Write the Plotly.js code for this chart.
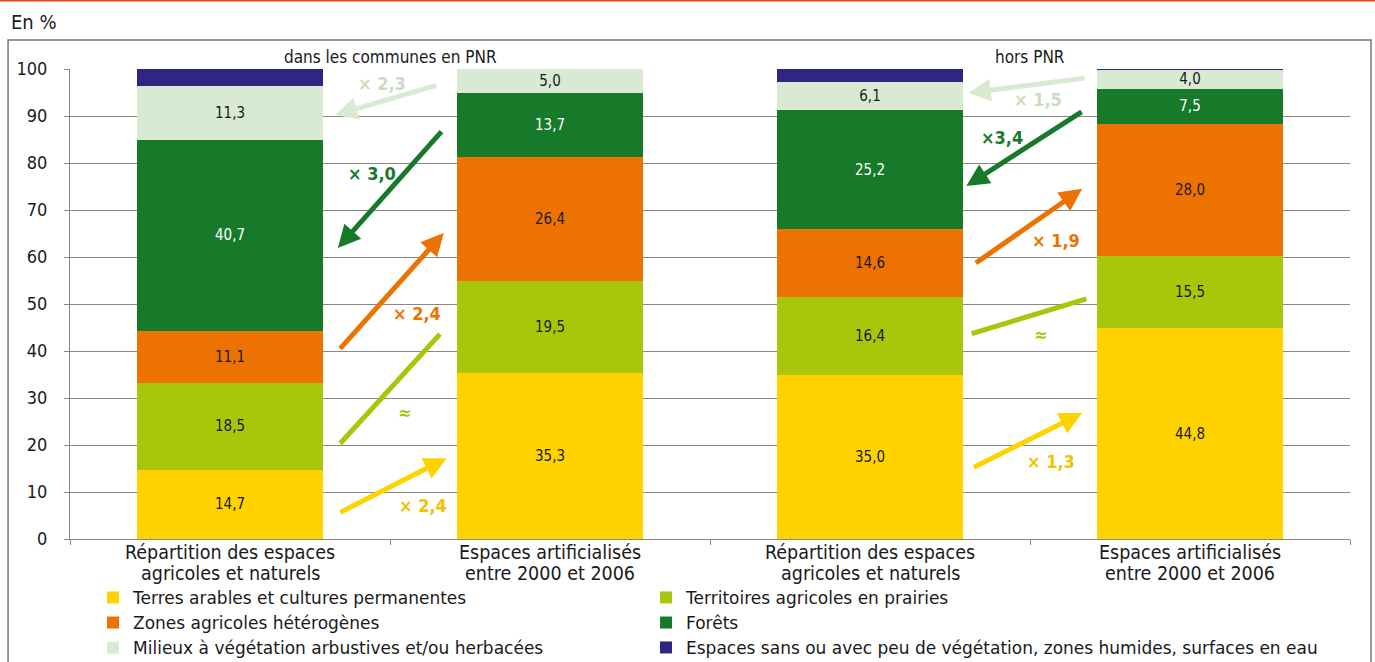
<!DOCTYPE html>
<html>
<head>
<meta charset="utf-8">
<script src="https://cdn.plot.ly/plotly-3.0.1.min.js"></script>
<style>
  body { margin: 0; background: #fff; }
  #chart { width: 1375px; height: 662px; }
</style>
</head>
<body>
<div id="chart"></div>
<script>
// bar positions 0..3 : PNR (2 bars) then hors PNR (2 bars)
var barPos = [0, 1, 2, 3];
var barLabels = [
  ["Répartition des espaces", "agricoles et naturels"],
  ["Espaces artificialisés", "entre 2000 et 2006"],
  ["Répartition des espaces", "agricoles et naturels"],
  ["Espaces artificialisés", "entre 2000 et 2006"],
];
var groupLabels = ["dans les communes en PNR", "hors PNR"];

var seriesNames = [
  "Terres arables et cultures permanentes",
  "Territoires agricoles en prairies",
  "Zones agricoles hétérogènes",
  "Forêts",
  "Milieux à végétation arbustives et/ou herbacées",
  "Espaces sans ou avec peu de végétation, zones humides, surfaces en eau",
];
var terres = [14.7, 35.3, 35.0, 44.8];
var prairies = [18.5, 19.5, 16.4, 15.5];
var heterogenes = [11.1, 26.4, 14.6, 28.0];
var forets = [40.7, 13.7, 25.2, 7.5];
var milieux = [11.3, 5.0, 6.1, 4.0];
var sansVeg = [3.7, 0.1, 2.7, 0.2];

// evolution factors, PNR then hors PNR (same order as the series)
var factors = ["× 2,4", "≈", "× 2,4", "× 3,0", "× 2,3",
               "× 1,3", "≈", "× 1,9", "×3,4", "× 1,5"];

var colors = ["#FFD200", "#A8C60A", "#EE7202", "#177A2B", "#D9EAD3", "#2F2683"];
var textColors = ["#1a1a1a", "#1a1a1a", "#1a1a1a", "#ffffff", "#1a1a1a", "#ffffff"];
var labelColors = ["#F2C200", "#A8C60A", "#EE7202", "#177A2B", "#C8DCC0"];

var FONT = "'DejaVu Sans Condensed', 'Liberation Sans Narrow', sans-serif";

function fr(v) {
  return v.toFixed(1).replace(".", ",");
}

var allSeries = [terres, prairies, heterogenes, forets, milieux, sansVeg];
var data = [];
for (var i = 0; i < allSeries.length; i++) {
  data.push({
    type: "bar",
    x: barPos,
    y: allSeries[i],
    name: seriesNames[i],
    // the last (long) entry sits in its own legend so it is not clipped
    legend: i < 5 ? "legend" : "legend2",
    marker: { color: colors[i] },
    text: i < 5 ? allSeries[i].map(fr) : null,
    textposition: i < 5 ? "inside" : "none",
    insidetextanchor: "middle",
    textangle: 0,
    textfont: { size: 15, color: textColors[i], family: FONT },
    hoverinfo: "none",
  });
}

// arrows: [tail x, tail y, head x, head y, arrowhead], in axis units
var arrows = [
  [0.34, 5.5, 0.677, 17.2, 2],
  [0.34, 20.0, 0.656, 43.6, 0],
  [0.34, 40.2, 0.668, 65.1, 2],
  [0.665, 87.0, 0.337, 61.9, 2],
  [0.649, 96.6, 0.328, 90.2, 2],
  [2.32, 15.1, 2.663, 26.8, 2],
  [2.313, 43.6, 2.676, 51.1, 0],
  [2.326, 58.5, 2.663, 74.5, 2],
  [2.666, 91.1, 2.301, 75.1, 2],
  [2.676, 98.1, 2.307, 94.9, 2],
];
var factorPos = [
  [0.603, 7.2], [0.546, 27.0], [0.584, 47.9], [0.443, 77.7], [0.475, 97.0],
  [2.566, 16.4], [2.535, 43.6], [2.582, 63.6], [2.413, 85.5], [2.526, 93.6],
];

var annotations = [];
for (var a = 0; a < arrows.length; a++) {
  var k = a % 5;
  annotations.push({
    x: arrows[a][2], y: arrows[a][3],
    ax: arrows[a][0], ay: arrows[a][1],
    xref: "x", yref: "y", axref: "x", ayref: "y",
    text: "",
    showarrow: true,
    arrowhead: arrows[a][4],
    arrowsize: 0.9,
    arrowwidth: 5,
    arrowcolor: colors[k],
    standoff: 0,
    startstandoff: 0,
  });
  annotations.push({
    x: factorPos[a][0], y: factorPos[a][1],
    xref: "x", yref: "y",
    text: "<b>" + factors[a] + "</b>",
    showarrow: false,
    font: { size: 18, color: labelColors[k], family: FONT },
  });
}
// category labels, one annotation per line to keep them tight
for (var b = 0; b < barPos.length; b++) {
  annotations.push({
    x: barPos[b], y: -0.0277, xref: "x", yref: "paper",
    text: barLabels[b][0], showarrow: false, yanchor: "middle",
    font: { size: 19.5, color: "#1a1a1a", family: FONT },
  });
  annotations.push({
    x: barPos[b], y: -0.0724, xref: "x", yref: "paper",
    text: barLabels[b][1], showarrow: false, yanchor: "middle",
    font: { size: 19.5, color: "#1a1a1a", family: FONT },
  });
}
annotations.push({
  x: 0.5, y: 1.0255, xref: "x", yref: "paper", yanchor: "middle",
  text: groupLabels[0], showarrow: false,
  font: { size: 17, color: "#1a1a1a", family: FONT },
});
annotations.push({
  x: 2.5, y: 1.0255, xref: "x", yref: "paper", yanchor: "middle",
  text: groupLabels[1], showarrow: false,
  font: { size: 17, color: "#1a1a1a", family: FONT },
});
annotations.push({
  x: -0.048, y: 1.1, xref: "paper", yref: "paper",
  xanchor: "left", yanchor: "middle",
  text: "En %", showarrow: false,
  font: { size: 20, color: "#1a1a1a", family: FONT },
});

var legendFont = { size: 17, family: "'DejaVu Sans', sans-serif" };

var layout = {
  width: 1375,
  height: 662,
  margin: { l: 70, r: 25, t: 69, b: 123, autoexpand: false },
  barmode: "stack",
  bargap: 0.416,
  uniformtext: { mode: "show", minsize: 15 },
  plot_bgcolor: "#ffffff",
  paper_bgcolor: "#ffffff",
  font: { family: FONT, color: "#1a1a1a", size: 18 },
  showlegend: true,
  legend: {
    orientation: "h",
    x: 0.018,
    xanchor: "left",
    y: -0.087,
    yanchor: "top",
    entrywidth: 508,
    entrywidthmode: "pixels",
    traceorder: "normal",
    font: legendFont,
  },
  legend2: {
    orientation: "h",
    x: 0.45,
    xanchor: "left",
    y: -0.1934,
    yanchor: "top",
    font: legendFont,
  },
  xaxis: {
    range: [-0.5, 3.5],
    tickvals: barPos,
    showticklabels: false,
    ticks: "",
    showgrid: false,
    zeroline: false,
    showline: true,
    linecolor: "#888888",
    linewidth: 1,
    automargin: false,
    minor: {
      tickvals: [-0.5, 0.5, 1.5, 2.5, 3.5],
      ticks: "outside",
      ticklen: 5,
      tickcolor: "#888888",
      showgrid: false,
    },
  },
  yaxis: {
    range: [0, 100],
    dtick: 10,
    ticks: "outside",
    ticklen: 5,
    tickcolor: "#888888",
    showgrid: true,
    gridcolor: "#888888",
    gridwidth: 1,
    zeroline: false,
    showline: true,
    linecolor: "#888888",
    automargin: false,
    ticklabelstandoff: 13,
    tickfont: { size: 18, family: FONT },
  },
  annotations: annotations,
  shapes: [
    {
      type: "rect", xref: "paper", yref: "paper",
      x0: -0.0484, x1: 1.0164, y0: -0.3, y1: 1.0617,
      line: { color: "#777777", width: 1.5 },
      layer: "below",
    },
    {
      type: "line", xref: "paper", yref: "paper",
      x0: -0.06, x1: 1.03, y0: 1.1457, y1: 1.1457,
      line: { color: "#E8481C", width: 2 },
    },
  ],
};

var config = { displayModeBar: false, staticPlot: true };
Plotly.newPlot("chart", data, layout, config);
</script>
</body>
</html>
